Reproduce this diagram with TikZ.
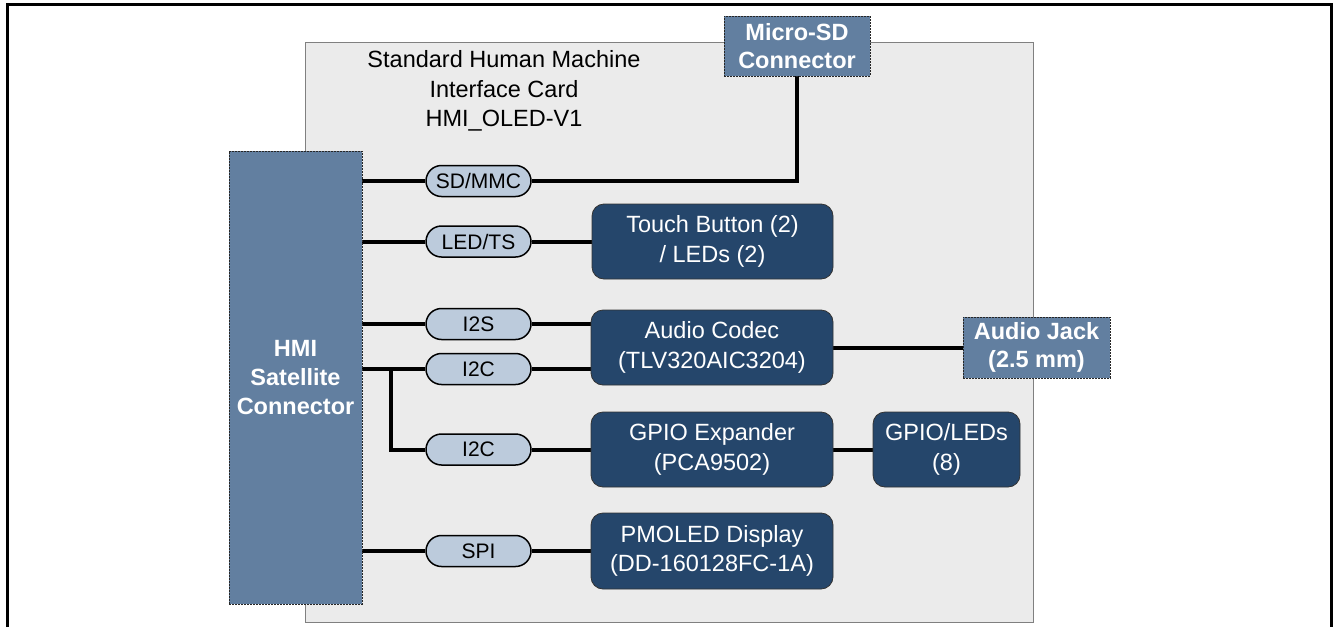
\documentclass[tikz,border=0pt]{standalone}
\usepackage{fontspec}
\setmainfont{Liberation Sans}
\definecolor{steel}{HTML}{627FA0}
\definecolor{navy}{HTML}{25466B}
\definecolor{pillblue}{HTML}{BCCBDC}
\definecolor{cardgrey}{HTML}{EBEBEB}
\pgfdeclarelayer{back}
\pgfdeclarelayer{mid}
\pgfsetlayers{back,mid,main}
\begin{document}
\begin{tikzpicture}[x=1pt,y=-1pt,
  bigfont/.style={font=\fontsize{23.5}{29.5}\selectfont},
  conn/.style={draw=black!85, dash pattern=on 2pt off 1pt, line width=0.8pt, fill=steel,
    text=white, font=\bfseries\fontsize{23.5}{29}\selectfont, align=center, inner sep=0pt},
  chip/.style={draw=black!80, line width=0.8pt, fill=navy, rounded corners=12pt,
    text=white, bigfont, align=center, inner sep=0pt},
  pill/.style={draw=black, line width=1.5pt, fill=pillblue, rounded corners=15.5pt,
    minimum width=105pt, minimum height=31pt, font=\fontsize{21}{25}\selectfont, inner sep=0pt},
  wire/.style={line width=4pt}
]
\useasboundingbox (0,0) rectangle (1333,627);
\draw[line width=3pt] (7,627) -- (7,4) -- (1331,4) -- (1331,627);

\begin{pgfonlayer}{back}
\node[draw=black!50, line width=1pt, fill=cardgrey, minimum width=728pt, minimum height=580pt, inner sep=0pt] (card) at (669,332) {};
\end{pgfonlayer}

\node[bigfont, align=center] (title) at (504,91) {Standard Human Machine\\Interface Card\\HMI\_OLED-V1};

\node[conn, minimum width=133pt, minimum height=453pt] (hmi) at (295.5,377.5) {HMI\\Satellite\\Connector};
\node[conn, minimum width=146pt, minimum height=60pt, font=\bfseries\fontsize{23.5}{28.5}\selectfont] (microsd) at (797,46) {Micro-SD\\Connector};
\node[conn, minimum width=147pt, minimum height=61pt, font=\bfseries\fontsize{23.5}{28.5}\selectfont] (jack) at (1036.5,347.5) {Audio Jack\\(2.5 mm)};

\node[chip, minimum width=241pt, minimum height=75pt] (touch) at (712.5,241.5) {Touch Button (2)\\/ LEDs (2)};
\node[chip, minimum width=242pt, minimum height=75pt] (audio) at (712,347.5) {Audio Codec\\(TLV320AIC3204)};
\node[chip, minimum width=242pt, minimum height=75pt] (gpio) at (712,449.5) {GPIO Expander\\(PCA9502)};
\node[chip, minimum width=147pt, minimum height=75pt] (leds) at (946.5,449.5) {GPIO/LEDs\\(8)};
\node[chip, minimum width=242pt, minimum height=76pt] (oled) at (712,551) {PMOLED Display\\(DD-160128FC-1A)};

\node[pill] (sdmmc) at (478.5,181) {SD/MMC};
\node[pill] (ledts) at (478.5,241.5) {LED/TS};
\node[pill] (i2s) at (478.5,324) {I2S};
\node[pill] (i2ca) at (478.5,369) {I2C};
\node[pill] (i2cb) at (478.5,449.5) {I2C};
\node[pill] (spi) at (478.5,551) {SPI};

\coordinate (br) at (391,369);

\begin{pgfonlayer}{mid}
\draw[wire] (hmi.east |- sdmmc) -- (sdmmc.west);
\draw[wire] (sdmmc.east) -| (microsd.south);
\draw[wire] (hmi.east |- ledts) -- (ledts.west);
\draw[wire] (ledts.east) -- (touch.west |- ledts);
\draw[wire] (hmi.east |- i2s) -- (i2s.west);
\draw[wire] (i2s.east) -- (audio.west |- i2s);
\draw[wire] (hmi.east |- i2ca) -- (i2ca.west);
\draw[wire] (i2ca.east) -- (audio.west |- i2ca);
\draw[wire] (br) |- (i2cb.west);
\draw[wire] (i2cb.east) -- (gpio.west |- i2cb);
\draw[wire] (hmi.east |- spi) -- (spi.west);
\draw[wire] (spi.east) -- (oled.west |- spi);
\draw[wire] (audio.east |- jack) -- (jack.west);
\draw[wire] (gpio.east) -- (leds.west);
\end{pgfonlayer}
\end{tikzpicture}
\end{document}
